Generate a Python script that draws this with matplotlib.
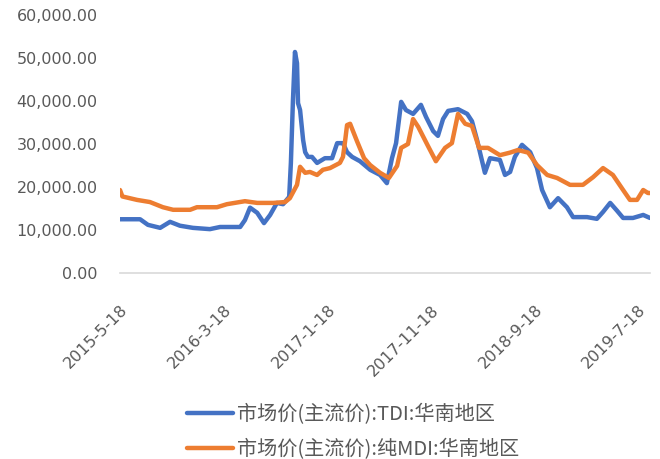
import matplotlib
matplotlib.use("Agg")
from matplotlib import pyplot as plt
import matplotlib.ticker as mticker
import pandas as pd

# TDI 华南地区
tdi_dates = ['2015-05-18', '2015-07-16', '2015-08-08', '2015-09-13', '2015-10-12', '2015-11-10',
             '2015-12-18', '2016-02-06', '2016-03-07', '2016-05-05', '2016-05-19', '2016-06-03',
             '2016-06-24', '2016-07-14', '2016-08-01', '2016-08-21', '2016-09-08', '2016-09-26',
             '2016-10-01', '2016-10-07', '2016-10-13', '2016-10-19', '2016-10-22', '2016-10-28',
             '2016-11-06', '2016-11-12', '2016-11-20', '2016-12-02', '2016-12-17', '2017-01-09',
             '2017-01-30', '2017-02-14', '2017-03-03', '2017-03-15', '2017-03-30', '2017-04-22',
             '2017-05-22', '2017-06-20', '2017-07-10', '2017-07-25', '2017-08-06', '2017-08-21',
             '2017-09-04', '2017-09-25', '2017-10-18', '2017-11-02', '2017-11-23', '2017-12-07',
             '2017-12-22', '2018-01-06', '2018-02-04', '2018-03-03', '2018-03-17', '2018-04-01',
             '2018-04-10', '2018-04-24', '2018-05-09', '2018-06-07', '2018-06-22', '2018-07-07',
             '2018-07-21', '2018-08-11', '2018-09-04', '2018-09-24', '2018-10-09', '2018-11-01',
             '2018-11-25', '2018-12-21', '2019-01-08', '2019-02-18', '2019-03-19', '2019-04-06',
             '2019-04-27', '2019-05-17', '2019-06-04', '2019-07-03', '2019-08-02', '2019-08-22']
tdi_values = [12500, 12500, 11200, 10500, 11900, 11000,
              10500, 10200, 10700, 10700, 12300, 15200,
              14000, 11600, 13500, 16300, 16000, 17700,
              25600, 40000, 51400, 48800, 39500, 37900,
              30900, 28100, 27000, 27000, 25600, 26700,
              26700, 30200, 30200, 28100, 27000, 26000,
              24000, 22800, 20900, 26700, 30200, 39800,
              37900, 37000, 39100, 36300, 33000, 31900,
              35800, 37700, 38100, 37000, 35300, 30900,
              27900, 23300, 26700, 26300, 22800, 23500,
              27000, 29800, 28100, 24400, 19300, 15300,
              17400, 15300, 13000, 13000, 12600, 14200,
              16300, 14500, 12800, 12800, 13500, 12800]

# 纯MDI 华南地区
mdi_dates = ['2015-05-18', '2015-05-25', '2015-07-07', '2015-08-14', '2015-09-21', '2015-10-21',
             '2015-12-10', '2015-12-30', '2016-02-27', '2016-03-27', '2016-05-19', '2016-06-24',
             '2016-08-10', '2016-09-14', '2016-09-28', '2016-10-19', '2016-10-28', '2016-11-12',
             '2016-11-26', '2016-12-17', '2017-01-03', '2017-01-24', '2017-02-22', '2017-03-03',
             '2017-03-09', '2017-03-15', '2017-03-24', '2017-04-13', '2017-05-04', '2017-05-22',
             '2017-06-20', '2017-07-16', '2017-08-09', '2017-08-21', '2017-09-10', '2017-09-25',
             '2017-10-10', '2017-11-08', '2017-12-01', '2017-12-28', '2018-01-17', '2018-02-04',
             '2018-02-25', '2018-03-17', '2018-04-07', '2018-05-03', '2018-06-07', '2018-07-07',
             '2018-07-30', '2018-08-29', '2018-09-24', '2018-10-24', '2018-11-22', '2018-12-30',
             '2019-02-06', '2019-03-08', '2019-04-06', '2019-05-05', '2019-06-04', '2019-06-24',
             '2019-07-15', '2019-08-02', '2019-08-16', '2019-08-22']
mdi_values = [19300, 17800, 17000, 16500, 15300, 14700,
              14700, 15300, 15300, 16000, 16700, 16300,
              16300, 16500, 17400, 20500, 24700, 23300,
              23500, 22800, 24000, 24400, 25600, 27000,
              30500, 34400, 34700, 30700, 26700, 25100,
              23300, 22100, 24900, 29100, 30000, 35800,
              34000, 29500, 26000, 29100, 30200, 37000,
              34700, 34200, 29100, 29100, 27400, 28000,
              28600, 28000, 25100, 22800, 22100, 20500,
              20500, 22300, 24400, 22800, 19300, 17000,
              17000, 19300, 18600, 18600]

tick_labels = ['2015-5-18', '2016-3-18', '2017-1-18', '2017-11-18', '2018-9-18', '2019-7-18']
series_names = ['市场价(主流价):TDI:华南地区', '市场价(主流价):纯MDI:华南地区']

tdi_x = pd.to_datetime(tdi_dates)
mdi_x = pd.to_datetime(mdi_dates)
ticks = pd.to_datetime(tick_labels, format='%Y-%m-%d')

fig = plt.figure(figsize=(6.6, 4.59), dpi=100)
ax = fig.add_axes([120 / 660, 1 - 273 / 459, 530 / 660, 258 / 459])

l1, = ax.plot(tdi_x, tdi_values, color='#4472C4', lw=3.2, solid_capstyle='round')
l2, = ax.plot(mdi_x, mdi_values, color='#ED7D31', lw=3.2, solid_capstyle='round')

ax.set_ylim(0, 60000)
ax.set_yticks(range(0, 60001, 10000))
ax.yaxis.set_major_formatter(mticker.FuncFormatter(lambda v, p: f'{v:,.2f}'))
ax.set_xlim(tdi_x[0], tdi_x[-1])
ax.set_xticks(ticks)
ax.set_xticklabels(tick_labels, rotation=45, ha='right', va='top', rotation_mode='anchor')

for s in ['top', 'right', 'left']:
    ax.spines[s].set_visible(False)
ax.spines['bottom'].set_color('#d9d9d9')
ax.spines['bottom'].set_linewidth(1.2)
ax.tick_params(axis='both', length=0, labelsize=11.5, colors='#595959')
ax.tick_params(axis='y', pad=16)
ax.tick_params(axis='x', pad=21)

fig.legend([l1, l2], series_names, loc='upper left', bbox_to_anchor=(177 / 660, 1 - 394 / 459),
           frameon=False, borderpad=0, handlelength=2.3, handletextpad=0.2, labelspacing=0.7,
           prop={'family': ['Noto Sans CJK SC', 'DejaVu Sans'], 'size': 14.5}, labelcolor='#595959')

fig.savefig('out.png', dpi=100)
